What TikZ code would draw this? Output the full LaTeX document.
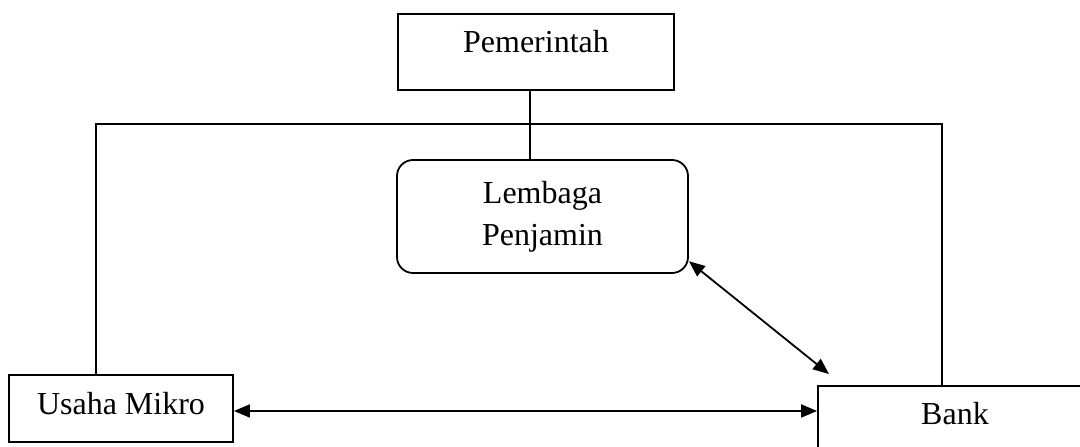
\documentclass[tikz,border=0pt]{standalone}
\usepackage{fontspec}
\setmainfont{Liberation Serif}
\usetikzlibrary{arrows.meta}
\begin{document}
\begin{tikzpicture}[x=1pt,y=1pt,line width=1.8pt,
  every node/.style={font=\fontsize{32}{42}\selectfont, inner sep=0pt},
  box/.style={draw, rectangle},
  rbox/.style={draw, rectangle, rounded corners=16pt, align=center},
  arr/.style={{Triangle[length=16pt,width=13pt]}-{Triangle[length=16pt,width=13pt]}}]
\useasboundingbox (0,0) rectangle (1080,447);
\clip (0,0) rectangle (1080,447);
\node[box, minimum width=276pt, minimum height=76pt, text height=22pt, text depth=20pt] (pem) at (536,395) {Pemerintah};
\node[rbox, minimum width=291pt, minimum height=113pt] (lem) at (542.5,230.5) {Lembaga\\Penjamin};
\node[box, minimum width=224pt, minimum height=67pt, text height=22pt, text depth=9pt] (um) at (121,38.5) {Usaha Mikro};
\node[box, minimum width=274pt, minimum height=80pt, text height=22pt, text depth=24pt] (bank) at (955,21) {Bank};
\coordinate (jx) at (530,0);
\coordinate (tl) at (96,323);
\coordinate (tr) at (942,323);
\coordinate (ay) at (0,36);
\coordinate (d2) at (829,73);
\draw (pem.south -| jx) -- (lem.north -| jx);
\draw (um.north -| tl) -- (tl) -- (tr) -- (bank.north -| tr);
\draw[arr] (um.east |- ay) -- (bank.west |- ay);
\draw[arr] (lem.-17.6) -- (d2);
\end{tikzpicture}
\end{document}
